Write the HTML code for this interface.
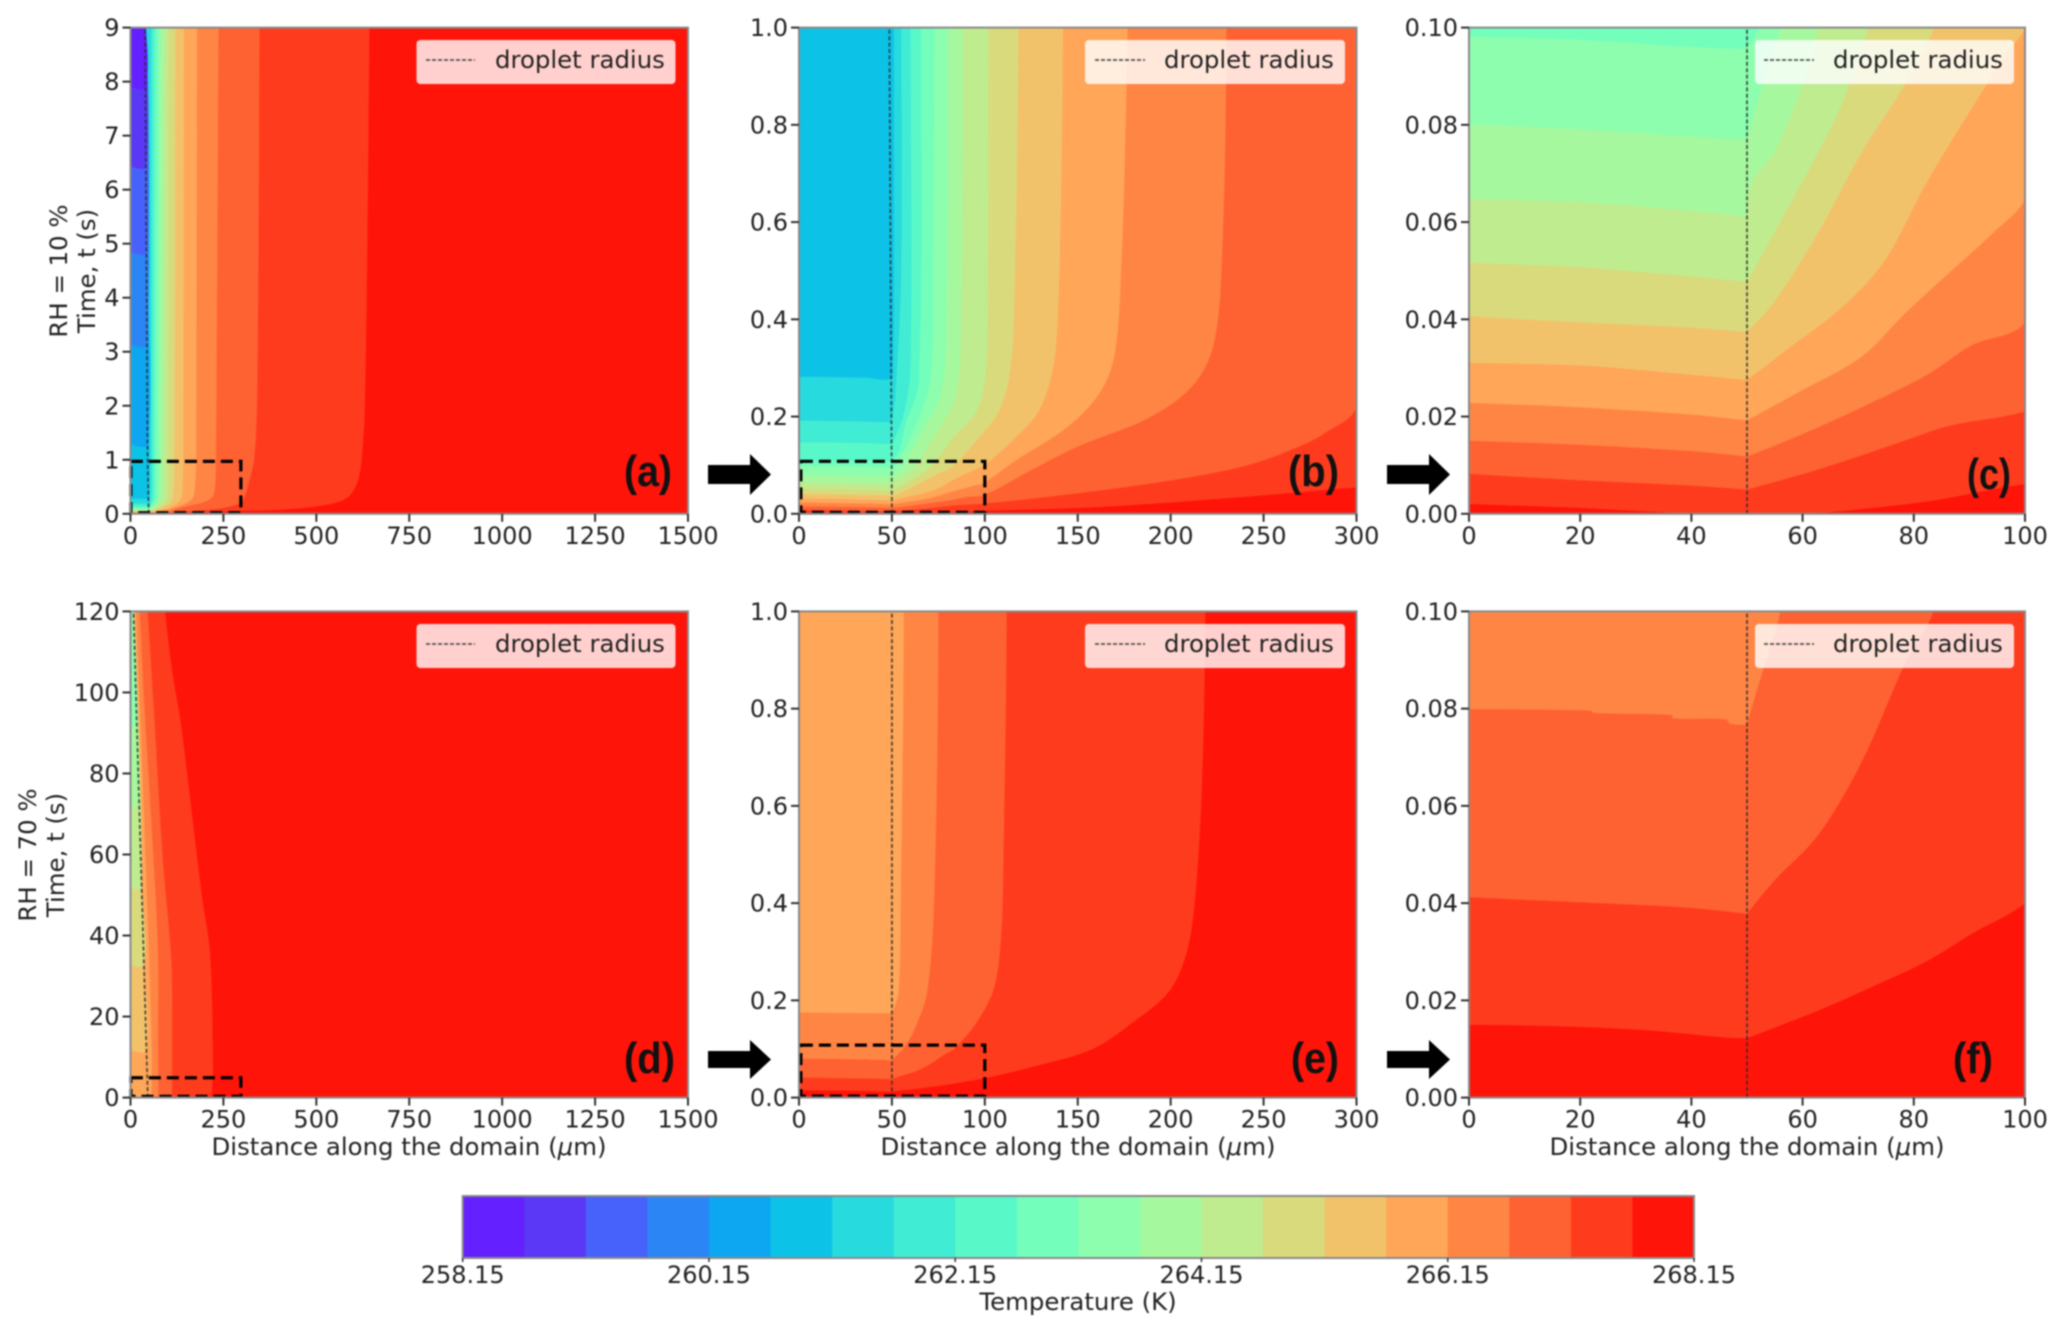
<!DOCTYPE html>
<html lang="en">
<head>
<meta charset="utf-8">
<title>Droplet temperature contours</title>
<style>
html,body{margin:0;padding:0;background:#fff;width:2067px;height:1336px;overflow:hidden}
svg{display:block;filter:blur(.7px)}
text{font-family:"DejaVu Sans","Liberation Sans",sans-serif;fill:#222}
.tick{font-size:24px}
.axis{font-size:24.4px}
.leg{font-size:24.4px}
.tag{font-family:"Liberation Sans",sans-serif;font-weight:700;font-size:44px;fill:#111}
</style>
</head>
<body>
<svg id="figure" xmlns="http://www.w3.org/2000/svg" width="2067" height="1336" viewBox="0 0 2067 1336">
<defs id="defs"></defs>
<g id="panels"></g>

<g>
<rect x="416.5" y="40" width="259" height="44" rx="4" fill="#fff" fill-opacity=".8"/>
<line x1="426" x2="475" y1="60" y2="60" stroke="#555" stroke-width="1.8" stroke-dasharray="4 2"/>
<text class="leg" x="495" y="68">droplet radius</text>
</g>
<g>
<rect x="1085" y="40" width="260" height="44" rx="4" fill="#fff" fill-opacity=".8"/>
<line x1="1095" x2="1145" y1="60" y2="60" stroke="#555" stroke-width="1.8" stroke-dasharray="4 2"/>
<text class="leg" x="1164" y="68">droplet radius</text>
</g>
<g>
<rect x="1755" y="40" width="259" height="44" rx="4" fill="#fff" fill-opacity=".8"/>
<line x1="1764" x2="1814" y1="60" y2="60" stroke="#555" stroke-width="1.8" stroke-dasharray="4 2"/>
<text class="leg" x="1833" y="68">droplet radius</text>
</g>
<g>
<rect x="416.5" y="624" width="259" height="44" rx="4" fill="#fff" fill-opacity=".8"/>
<line x1="426" x2="475" y1="644" y2="644" stroke="#555" stroke-width="1.8" stroke-dasharray="4 2"/>
<text class="leg" x="495" y="652">droplet radius</text>
</g>
<g>
<rect x="1085" y="624" width="260" height="44" rx="4" fill="#fff" fill-opacity=".8"/>
<line x1="1095" x2="1145" y1="644" y2="644" stroke="#555" stroke-width="1.8" stroke-dasharray="4 2"/>
<text class="leg" x="1164" y="652">droplet radius</text>
</g>
<g>
<rect x="1755" y="624" width="259" height="44" rx="4" fill="#fff" fill-opacity=".8"/>
<line x1="1764" x2="1814" y1="644" y2="644" stroke="#555" stroke-width="1.8" stroke-dasharray="4 2"/>
<text class="leg" x="1833" y="652">droplet radius</text>
</g>

<text class="tag" x="624" y="486" textLength="48" lengthAdjust="spacingAndGlyphs">(a)</text>
<text class="tag" x="1288" y="486" textLength="51" lengthAdjust="spacingAndGlyphs">(b)</text>
<text class="tag" x="1967" y="489" textLength="44" lengthAdjust="spacingAndGlyphs">(c)</text>
<text class="tag" x="624" y="1073" textLength="51" lengthAdjust="spacingAndGlyphs">(d)</text>
<text class="tag" x="1291" y="1073" textLength="48" lengthAdjust="spacingAndGlyphs">(e)</text>
<text class="tag" x="1953" y="1073" textLength="40" lengthAdjust="spacingAndGlyphs">(f)</text>

<polygon fill="#000" points="708,465 750,465 750,454 771,474.5 750,495 750,484 708,484"/>
<polygon fill="#000" points="1387,465 1429,465 1429,454 1450,474.5 1429,495 1429,484 1387,484"/>
<polygon fill="#000" points="708,1051 750,1051 750,1040 771,1059.5 750,1079 750,1068 708,1068"/>
<polygon fill="#000" points="1387,1051 1429,1051 1429,1040 1450,1059.5 1429,1079 1429,1068 1387,1068"/>

<text class="axis" transform="translate(67,271) rotate(-90)" text-anchor="middle">RH = 10 %</text>
<text class="axis" transform="translate(95,271) rotate(-90)" text-anchor="middle">Time, t (s)</text>
<text class="axis" transform="translate(36,855) rotate(-90)" text-anchor="middle">RH = 70 %</text>
<text class="axis" transform="translate(64,855) rotate(-90)" text-anchor="middle">Time, t (s)</text>

<text class="axis" x="409" y="1155" text-anchor="middle">Distance along the domain (<tspan font-style="italic">μ</tspan>m)</text>
<text class="axis" x="1078" y="1155" text-anchor="middle">Distance along the domain (<tspan font-style="italic">μ</tspan>m)</text>
<text class="axis" x="1747" y="1155" text-anchor="middle">Distance along the domain (<tspan font-style="italic">μ</tspan>m)</text>

<g id="colorbar"></g>
<text class="axis" x="1078" y="1310" text-anchor="middle">Temperature (K)</text>
</svg>

<script>
// Colour of each temperature band, coolest first.
const bandColors = ['#6420ff','#5a38f5','#4662fa','#2c85f5','#0da6f0','#0dc2e7','#26dade','#40ecd4','#59f8c8','#73febb','#8cfeae','#a6f89e','#bfec8e','#d9da7c','#f2c26b','#ffa658','#ff8545','#ff6232','#ff3b1e','#ff140a'];

// Colorbar values.
const colorbarTicks = ['258.15','260.15','262.15','264.15','266.15','268.15'];

// Tick labels for each panel.
const xTicksWide = ['0','250','500','750','1000','1250','1500'];
const xTicksMid = ['0','50','100','150','200','250','300'];
const xTicksNear = ['0','20','40','60','80','100'];
const yTicksA = ['0','1','2','3','4','5','6','7','8','9'];
const yTicksD = ['0','20','40','60','80','100','120'];
const yTicksUnit = ['0.0','0.2','0.4','0.6','0.8','1.0'];
const yTicksShort = ['0.00','0.02','0.04','0.06','0.08','0.10'];

// RH = 10 %: each isotherm is the edge between band N and band N+1, as [distance, time].
const rh10Iso18 = [[0,.002],[20,.0012],[35,.0003],[40,0],[60,0],[75,.0015],[85,.003],[100,.0061],[150,.012],[187,.02],[250,.038],[300,.054],[414,.08],[538,.18],[587,.32],[612,.62],[624,1.16],[631,2.1],[639,6.1],[643,9]];
const rh10Iso17 = [[0,.0082],[20,.0069],[40,.0058],[50,.005],[62.8,.0091],[78.5,.0151],[86.4,.0181],[100,.0211],[139,.037],[187,.061],[223,.084],[247,.106],[270,.14],[283,.166],[300,.2186],[315,.485],[334,1.09],[342,2.78],[347,9]];
const rh10Iso16 = [[0,.015],[20,.0142],[40,.0129],[50,.0118],[59.6,.0162],[70.6,.0219],[82.4,.0286],[90.3,.0346],[100,.0394],[125,.09],[151,.14],[187,.195],[211,.26],[223,.346],[227.7,.533],[230,1],[237,9]];
const rh10Iso15 = [[0,.0228],[20,.0219],[40,.0204],[50,.0192],[59.6,.0252],[70.6,.0323],[78.5,.0413],[86.4,.0496],[94.3,.0578],[100,.0647],[116,.108],[145,.18],[162,.25],[170,.33],[173.7,.533],[176,.833],[176.8,1],[179,9]];
const rh10Iso14 = [[0,.031],[20,.0305],[40,.0286],[50,.0275],[57.2,.0338],[66.7,.0421],[74.6,.0518],[82.4,.0683],[90.3,.0832],[96.6,.0945],[100,.1],[115,.151],[129,.211],[136.4,.294],[139,.383],[140.8,.608],[142,1],[144,9]];
const rh10Iso13 = [[0,.0406],[20,.0394],[40,.0383],[50,.0374],[54.9,.0436],[62.8,.0578],[70.6,.0743],[78.5,.0885],[83.6,.1],[95.6,.151],[107.6,.211],[113.6,.294],[116,.458],[118,1],[121,9]];
const rh10Iso12 = [[0,.0516],[20,.0507],[40,.0488],[50,.0477],[54.9,.0578],[62.8,.0743],[67.5,.0855],[71.8,.1],[83.6,.159],[95.6,.211],[100.4,.286],[101.6,.458],[102,1],[103,9]];
const rh10Iso11 = [[0,.0647],[20,.0641],[40,.0623],[50,.0611],[51,.0683],[54.9,.0743],[59.6,.087],[62.8,.1],[74,.166],[83.6,.234],[87,.346],[88,1],[90,9]];
const rh10Iso10 = [[0,.0801],[20,.0791],[40,.0776],[50,.0769],[52.5,.087],[56,.1],[66.8,.174],[76.4,.249],[79.3,.383],[80,1],[82,9]];
const rh10Iso9 = [[0,.0982],[20,.0975],[40,.096],[50,.0956],[52,.1],[62,.174],[70.4,.271],[72,.458],[72.8,1],[75,9]];
const rh10Iso8 = [[0,.11],[50,.108],[54,.13],[57,.181],[64.4,.271],[65.6,1],[68,9]];
const rh10Iso7 = [[0,.147],[30,.146],[50,.143],[56,.2],[60,.3],[60,1],[61,9]];
const rh10Iso6 = [[0,.192],[30,.19],[50,.188],[52,.25],[55,.5],[55,1],[55,9]];
const rh10Iso5 = [[0,.282],[35,.28],[49.5,.278],[50.5,.3],[51,.5],[51,1],[50,5],[44,9]];
const rh10Iso4 = [[0,1.29],[47,1.28],[44,5],[41,9]];
const rh10Iso3 = [[0,3.13],[45,3.13],[41,9]];
const rh10Iso2 = [[0,4.84],[44,4.84],[41,9]];
const rh10Iso1 = [[0,6.43],[42,6.43],[41,9]];
const rh10Iso0 = [[0,7.9],[41,7.9],[40.5,9]];

// RH = 70 %: same structure.
const rh70Iso18 = [[0,.01495],[15.5,.0147],[31.3,.0139],[46.2,.01235],[50,.0122],[62.8,.0179],[70.6,.0218],[82.4,.0281],[90.3,.0336],[100,.0399],[127,.0645],[158,.1],[179.7,.155],[199,.218],[208.5,.297],[213.3,.415],[216.9,.651],[218.6,1],[222,7],[214,35.6],[192,49.8],[167,68.6],[136,92],[111,106],[93,120]];
const rh70Iso17 = [[0,.0412],[23.4,.04],[39.1,.0391],[50,.0378],[54.9,.0446],[62.8,.054],[70.6,.069],[78.5,.0895],[83.5,.1],[95.6,.155],[105,.226],[108.8,.336],[110,.493],[111.7,1],[112,12],[111,31],[105,40],[86.6,59],[62,97],[46,120]];
const rh70Iso16 = [[0,.0799],[21.8,.0796],[22.6,.0791],[36.4,.0787],[36.8,.078],[46.2,.0778],[47,.0769],[50,.0767],[51,.0808],[53.3,.0895],[56,.1],[62,.139],[69,.218],[72.8,.415],[75,1],[74,12],[74,35.6],[55.6,68.6],[37,97],[25,120]];
const rh70Iso15 = [[0,.1747],[50,.173],[53.6,.218],[54.8,.415],[56.4,1],[57,12],[50,35],[40,60],[28,90],[15,120]];
const rh70Iso14 = [[0,11.7],[43,11.7],[36,33],[30,52],[20,80],[10,120]];
const rh70Iso13 = [[0,32.7],[37,32.7],[30,52],[9,120]];
const rh70Iso12 = [[0,51.7],[30,51.7],[9,120]];
const rh70Iso11 = [[0,72],[24,72],[8.5,120]];
const rh70Iso10 = [[0,92],[17,92],[8,120]];

// Droplet radius over time, [distance, time].
const radiusA = [[49,0],[46,1],[39,9]];
const radiusB = [[50,0],[48.6,1]];
const radiusC = [[50,0],[50,.1]];
const radiusD = [[46.7,0],[8,120]];
const radiusE = [[50,0],[50,1]];
const radiusF = [[50,0],[50,.1]];

// Zoom window corners, [distance0, distance1, time0, time1].
const zoomBoxA = [1,297,.02,.97];
const zoomBoxB = [1,100,.003,.108];
const zoomBoxD = [1,297,.3,4.9];
const zoomBoxE = [1,100,.003,.108];

const rh10Levels = [[18,rh10Iso18],[17,rh10Iso17],[16,rh10Iso16],[15,rh10Iso15],[14,rh10Iso14],[13,rh10Iso13],[12,rh10Iso12],[11,rh10Iso11],[10,rh10Iso10],[9,rh10Iso9],[8,rh10Iso8],[7,rh10Iso7],[6,rh10Iso6],[5,rh10Iso5],[4,rh10Iso4],[3,rh10Iso3],[2,rh10Iso2],[1,rh10Iso1],[0,rh10Iso0]];
const rh70Levels = [[18,rh70Iso18],[17,rh70Iso17],[16,rh70Iso16],[15,rh70Iso15],[14,rh70Iso14],[13,rh70Iso13],[12,rh70Iso12],[11,rh70Iso11],[10,rh70Iso10]];

// The droplet surface sits at this distance; isotherms keep a sharp corner there.
const surfaceDistance = 50;

const SVGNS = 'http://www.w3.org/2000/svg';
const rootPanels = document.getElementById('panels');
const defs = document.getElementById('defs');

function node(tag, attrs, parent) {
  const el = document.createElementNS(SVGNS, tag);
  for (const k in attrs) el.setAttribute(k, attrs[k]);
  parent.appendChild(el);
  return el;
}

// Smooth an isotherm through its points, leaving the droplet-surface point as a corner.
function curveThrough(data, xScale, yScale) {
  const px = data.map(d => [xScale(d[0]), yScale(d[1])]);
  const isCorner = i => i === 0 || i === px.length - 1 || data[i][0] === surfaceDistance;
  const tangent = function (i, len) {
    if (isCorner(i)) return [0, 0];
    const dx = px[i + 1][0] - px[i - 1][0], dy = px[i + 1][1] - px[i - 1][1];
    const n = Math.hypot(dx, dy) || 1;
    return [dx / n * len, dy / n * len];
  };
  let path = 'M' + px[0][0].toFixed(2) + ' ' + px[0][1].toFixed(2);
  for (let i = 0; i < px.length - 1; i++) {
    const len = Math.hypot(px[i + 1][0] - px[i][0], px[i + 1][1] - px[i][1]) / 3;
    const t0 = tangent(i, len), t1 = tangent(i + 1, len);
    path += 'C' + (px[i][0] + t0[0]).toFixed(2) + ' ' + (px[i][1] + t0[1]).toFixed(2) + ' ' +
      (px[i + 1][0] - t1[0]).toFixed(2) + ' ' + (px[i + 1][1] - t1[1]).toFixed(2) + ' ' +
      px[i + 1][0].toFixed(2) + ' ' + px[i + 1][1].toFixed(2);
  }
  return path;
}

function drawPanel(p) {
  const xScale = v => p.left + v / p.xMax * (p.right - p.left);
  const yScale = v => p.bottom - v / p.yMax * (p.bottom - p.top);

  const g = node('g', {}, rootPanels);
  
  

  const clip = node('clipPath', {id: 'clip-' + p.id}, defs);
  node('rect', {x: p.left, y: p.top, width: p.right - p.left, height: p.bottom - p.top}, clip);

  const field = node('g', {'clip-path': 'url(#clip-' + p.id + ')'}, g);
  
  

  const base = node('rect', {x: p.left, y: p.top, width: p.right - p.left, height: p.bottom - p.top, fill: bandColors[19]}, field);
  
  

  p.levels.forEach(function (entry) {
    const level = entry[0], pts = entry[1];
    const last = pts[pts.length - 1];
    const d = curveThrough(pts, xScale, yScale) +
      'L' + xScale(last[0]).toFixed(2) + ' ' + yScale(p.datasetTop).toFixed(2) +
      'L' + xScale(0).toFixed(2) + ' ' + yScale(p.datasetTop).toFixed(2) + 'Z';
    const band = node('path', {d: d, fill: bandColors[level]}, field);
    
    
  });

  const radius = node('polyline', {
    points: p.radius.map(d => xScale(d[0]).toFixed(2) + ',' + yScale(d[1]).toFixed(2)).join(' '),
    fill: 'none', stroke: '#2a2a2a', 'stroke-width': 1.8, 'stroke-opacity': .8, 'stroke-dasharray': '4 2.4'
  }, g);
  
  

  if (p.zoomBox) {
    const b = p.zoomBox;
    const box = node('rect', {
      x: xScale(b[0]), y: yScale(b[3]),
      width: xScale(b[1]) - xScale(b[0]), height: yScale(b[2]) - yScale(b[3]),
      fill: 'none', stroke: '#000', 'stroke-width': 3.2, 'stroke-dasharray': '12 6'
    }, g);
    
    
  }

  const frame = node('rect', {x: p.left, y: p.top, width: p.right - p.left, height: p.bottom - p.top, fill: 'none', stroke: '#8a8a8a', 'stroke-width': 2}, g);
  
  

  p.xTicks.forEach(function (label) {
    const px = xScale(parseFloat(label));
    const tick = node('line', {x1: px, x2: px, y1: p.bottom, y2: p.bottom + 8, stroke: '#333', 'stroke-width': 2}, g);
    
    
    const text = node('text', {class: 'tick', x: px, y: p.bottom + 30, 'text-anchor': 'middle'}, g);
    text.textContent = label;
    
    
  });

  p.yTicks.forEach(function (label) {
    const py = yScale(parseFloat(label));
    const tick = node('line', {x1: p.left - 8, x2: p.left, y1: py, y2: py, stroke: '#333', 'stroke-width': 2}, g);
    
    
    const text = node('text', {class: 'tick', x: p.left - 11, y: py + 8.5, 'text-anchor': 'end'}, g);
    text.textContent = label;
    
    
  });
}

const TOP1 = 27.6, BOT1 = 513.8, TOP2 = 611.4, BOT2 = 1097.6;
drawPanel({id: 'a', left: 130.5, right: 688, top: TOP1, bottom: BOT1, xMax: 1500, yMax: 9, datasetTop: 9, levels: rh10Levels, radius: radiusA, zoomBox: zoomBoxA, xTicks: xTicksWide, yTicks: yTicksA});
drawPanel({id: 'b', left: 799, right: 1356.5, top: TOP1, bottom: BOT1, xMax: 300, yMax: 1, datasetTop: 9, levels: rh10Levels, radius: radiusB, zoomBox: zoomBoxB, xTicks: xTicksMid, yTicks: yTicksUnit});
drawPanel({id: 'c', left: 1469, right: 2025, top: TOP1, bottom: BOT1, xMax: 100, yMax: .1, datasetTop: 9, levels: rh10Levels, radius: radiusC, zoomBox: null, xTicks: xTicksNear, yTicks: yTicksShort});
drawPanel({id: 'd', left: 130.5, right: 688, top: TOP2, bottom: BOT2, xMax: 1500, yMax: 120, datasetTop: 120, levels: rh70Levels, radius: radiusD, zoomBox: zoomBoxD, xTicks: xTicksWide, yTicks: yTicksD});
drawPanel({id: 'e', left: 799, right: 1356.5, top: TOP2, bottom: BOT2, xMax: 300, yMax: 1, datasetTop: 120, levels: rh70Levels, radius: radiusE, zoomBox: zoomBoxE, xTicks: xTicksMid, yTicks: yTicksUnit});
drawPanel({id: 'f', left: 1469, right: 2025, top: TOP2, bottom: BOT2, xMax: 100, yMax: .1, datasetTop: 120, levels: rh70Levels, radius: radiusF, zoomBox: null, xTicks: xTicksNear, yTicks: yTicksShort});

(function drawColorbar() {
  const g = document.getElementById('colorbar');
  const left = 462.7, right = 1694, top = 1196, bottom = 1258;
  const tMin = parseFloat(colorbarTicks[0]);
  const tMax = parseFloat(colorbarTicks[colorbarTicks.length - 1]);
  const cScale = t => left + (t - tMin) / (tMax - tMin) * (right - left);
  const step = (tMax - tMin) / bandColors.length;
  bandColors.forEach(function (color, i) {
    const x0 = cScale(tMin + i * step), x1 = cScale(tMin + (i + 1) * step);
    const swatch = node('rect', {x: x0, y: top, width: x1 - x0 + .4, height: bottom - top, fill: color}, g);
    
    
  });
  const outline = node('rect', {x: left, y: top, width: right - left, height: bottom - top, fill: 'none', stroke: '#8a8a8a', 'stroke-width': 2}, g);
  
  
  colorbarTicks.forEach(function (label) {
    const px = cScale(parseFloat(label));
    const tick = node('line', {x1: px, x2: px, y1: bottom, y2: bottom + 4, stroke: '#333', 'stroke-width': 1.5}, g);
    
    
    const text = node('text', {class: 'tick', x: px, y: 1283, 'text-anchor': 'middle'}, g);
    text.textContent = label;
    
    
  });
})();
</script>
</body>
</html>
